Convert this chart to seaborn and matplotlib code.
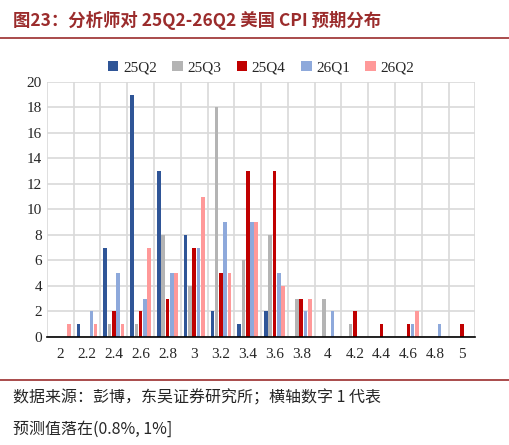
import matplotlib
matplotlib.use("Agg")
import matplotlib.pyplot as plt
import seaborn as sns
import pandas as pd

# ── Data ──────────────────────────────────────────────────
categories = ["2", "2.2", "2.4", "2.6", "2.8", "3", "3.2", "3.4",
              "3.6", "3.8", "4", "4.2", "4.4", "4.6", "4.8", "5"]
q25q2 = [0, 1, 7, 19, 13, 8, 2, 1, 2, 0, 0, 0, 0, 0, 0, 0]
q25q3 = [0, 0, 1, 1, 8, 4, 18, 6, 8, 3, 3, 1, 0, 0, 0, 0]
q25q4 = [0, 0, 2, 2, 3, 7, 5, 13, 13, 3, 0, 2, 1, 1, 0, 1]
q26q1 = [0, 2, 5, 3, 5, 7, 9, 9, 5, 2, 2, 0, 0, 1, 1, 0]
q26q2 = [1, 1, 1, 7, 5, 11, 5, 9, 4, 3, 0, 0, 0, 2, 0, 0]
series = ["25Q2", "25Q3", "25Q4", "26Q1", "26Q2"]
colors = ["#2F5597", "#B4B4B4", "#C00000", "#8EA9DB", "#FF9999"]

rows = []
for name, vals in zip(series, [q25q2, q25q3, q25q4, q26q1, q26q2]):
    for c, v in zip(categories, vals):
        rows.append({"x": c, "series": name, "n": v})
df = pd.DataFrame(rows)

sns.set_style("white")
plt.rcParams["font.family"] = ["Liberation Serif", "Noto Sans CJK SC"]

fig = plt.figure(figsize=(5.10, 4.45), dpi=100)
ax = fig.add_axes([0.092, 0.243, 0.84, 0.573])
sns.barplot(data=df, x="x", y="n", hue="series", palette=colors,
            width=0.8, gap=0.15, linewidth=0, saturation=1, ax=ax, zorder=3)

ax.set_ylim(0, 20)
ax.set_yticks(range(0, 21, 2))
ax.set_xlim(-0.5, len(categories) - 0.5)
ax.set_xticks([i - 0.5 for i in range(len(categories) + 1)], minor=True)
ax.tick_params(axis="x", which="minor", length=5, width=1.2, direction="inout", color="black")
ax.tick_params(axis="x", which="major", length=0, labelsize=11, pad=8)
ax.tick_params(axis="y", length=0, labelsize=11)
ax.set_xlabel("")
ax.set_ylabel("")
ax.grid(True, which="minor", axis="x", color="#D9D9D9", lw=1.2, zorder=0)
ax.grid(True, which="major", axis="y", color="#D9D9D9", lw=1.2, zorder=0)
for s in ["top", "right", "left"]:
    ax.spines[s].set_visible(False)
ax.spines["bottom"].set_color("black")
ax.spines["bottom"].set_linewidth(1.2)
ax.spines["bottom"].set_zorder(5)

ax.legend(loc="lower center", bbox_to_anchor=(0.5, 1.0), ncol=5, frameon=False,
          fontsize=11, handlelength=0.7, handleheight=0.7, handletextpad=0.3,
          columnspacing=1.0, borderaxespad=0.1)

fig.text(0.025, 0.955, "图23：分析师对 25Q2-26Q2 美国 CPI 预期分布", fontsize=12.5,
         fontweight="bold", color="#9B2C2C", va="center",
         family=["Noto Sans CJK SC", "DejaVu Sans"])
fig.add_artist(plt.Line2D([0.0, 1.0], [0.915, 0.915], color="#9B2C2C", lw=1.2))
fig.add_artist(plt.Line2D([0.0, 1.0], [0.145, 0.145], color="#9B2C2C", lw=1.2))
fig.text(0.025, 0.105, "数据来源：彭博，东吴证券研究所；横轴数字 1 代表", fontsize=11.5,
         va="center", family=["Noto Sans CJK SC", "DejaVu Sans"])
fig.text(0.025, 0.035, "预测值落在(0.8%, 1%]", fontsize=11.5,
         va="center", family=["Noto Sans CJK SC", "DejaVu Sans"])

fig.savefig("out.png", dpi=100)
